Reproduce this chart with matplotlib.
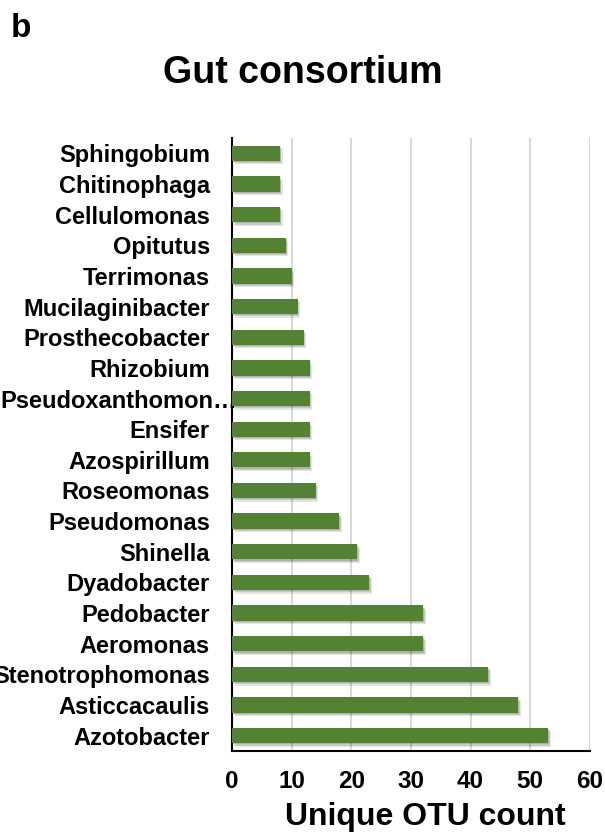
import matplotlib
matplotlib.use('Agg')
import matplotlib.pyplot as plt
import matplotlib.transforms as mtransforms

genera = ['Sphingobium', 'Chitinophaga', 'Cellulomonas', 'Opitutus', 'Terrimonas',
          'Mucilaginibacter', 'Prosthecobacter', 'Rhizobium', 'Pseudoxanthomon\u2026',
          'Ensifer', 'Azospirillum', 'Roseomonas', 'Pseudomonas', 'Shinella',
          'Dyadobacter', 'Pedobacter', 'Aeromonas', 'Stenotrophomonas',
          'Asticcacaulis', 'Azotobacter']
otu_counts = [8, 8, 8, 9, 10, 11, 12, 13, 13, 13, 13, 14, 18, 21, 23, 32, 32, 43, 48, 53]
x_ticks = [0, 10, 20, 30, 40, 50, 60]

plt.rcParams['font.family'] = ['Liberation Sans', 'DejaVu Sans']
plt.rcParams['font.weight'] = 'bold'

fig = plt.figure(figsize=(6.05, 8.35), dpi=100)
ax = fig.add_axes([0.3835, 0.1006, 0.5915, 0.7341])

ypos = list(range(len(genera)))

# soft drop shadow under the bars
for dx, dy, a in [(2.0, -2.5, 0.10), (1.2, -1.6, 0.12), (0.6, -0.8, 0.12)]:
    sh = mtransforms.offset_copy(ax.transData, fig=fig, x=dx, y=dy, units='points')
    ax.barh(ypos, otu_counts, height=0.5, color='black', alpha=a,
            transform=sh, zorder=2, linewidth=0)

ax.barh(ypos, otu_counts, height=0.5, color='#548235', zorder=3, linewidth=0)

ax.set_xlim(0, 60)
ax.set_ylim(len(genera) - 0.5, -0.5)
ax.set_xticks(x_ticks)
ax.set_yticks(ypos)
ax.set_yticklabels(genera, fontsize=17, fontweight='bold')
ax.set_xticklabels([str(t) for t in x_ticks], fontsize=17.5, fontweight='bold')
ax.tick_params(axis='both', length=0)
ax.tick_params(axis='y', pad=16)
ax.tick_params(axis='x', pad=14)

# the truncated label runs into the gap like in the original
lab = ax.get_yticklabels()[8]
lab.set_transform(lab.get_transform() + mtransforms.ScaledTranslation(20 / 72, 0, fig.dpi_scale_trans))

ax.grid(axis='x', color='#d9d9d9', linewidth=1.5, zorder=0)
ax.set_axisbelow(True)
for s in ['top', 'right']:
    ax.spines[s].set_visible(False)
ax.spines['left'].set_linewidth(1.5)
ax.spines['bottom'].set_linewidth(1.5)

ax.set_xlabel('Unique OTU count', fontsize=23, fontweight='bold', labelpad=6)
ax.xaxis.label.set_x(0.54)
fig.text(0.5, 0.912, 'Gut consortium', fontsize=27, fontweight='bold',
         ha='center', va='center')
fig.text(0.018, 0.966, 'b', fontsize=24, fontweight='bold', ha='left', va='center')

fig.savefig('out.png', dpi=100)
